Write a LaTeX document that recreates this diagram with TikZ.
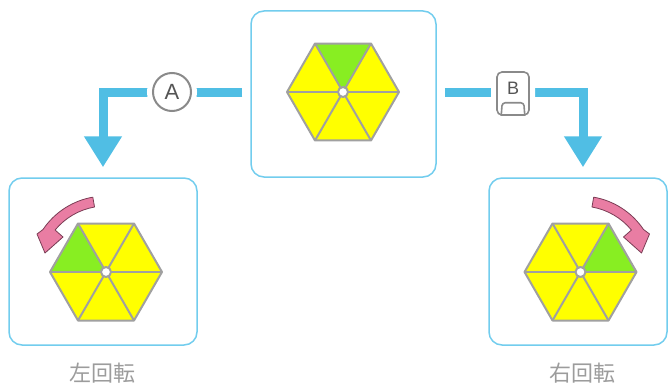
\documentclass[tikz,border=0pt]{standalone}
\usepackage{fontspec}
\setmainfont{Liberation Sans}
\newfontfamily\cjk{Noto Sans CJK JP}
\usetikzlibrary{arrows.meta}
\definecolor{boxblue}{HTML}{72CDEE}
\definecolor{connblue}{HTML}{50BEE4}
\definecolor{hexyellow}{HTML}{FFFF00}
\definecolor{hexgreen}{HTML}{88EE22}
\definecolor{hexgray}{HTML}{A0A0A0}
\definecolor{pinkfill}{HTML}{E97DA3}
\definecolor{pinkline}{HTML}{7A3D55}
\definecolor{labelgray}{HTML}{9C9C9C}
\definecolor{keygray}{HTML}{8A8A8A}
\definecolor{keytext}{HTML}{555555}
\tikzset{
  panel/.style={draw=boxblue, line width=1.5pt, rounded corners=13pt, fill=white, inner sep=0pt},
  conn/.style={draw=connblue, line width=9pt, -{Triangle[width=36pt,length=31pt]}},
  hexline/.style={draw=hexgray, line width=2pt, line join=round},
  rotpink/.style={fill=pinkfill, draw=pinkline, line width=0.8pt, line join=round},
  keycirc/.style={circle, draw=keygray, line width=2pt, fill=white, minimum size=38pt, inner sep=0pt,
    preaction={draw=white, line width=12pt}, text=keytext, font=\fontsize{22}{26}\selectfont},
  keycap/.style={rectangle, draw=keygray, line width=1.6pt, rounded corners=5pt, fill=white,
    minimum width=32pt, minimum height=43pt, inner sep=0pt, preaction={draw=white, line width=12pt}},
  caption/.style={text=labelgray, font=\cjk\fontsize{22}{26}\selectfont}
}
\newcommand{\hexwheel}[2]{%
  \begin{scope}[shift={#1}]
    \foreach \a in {0,60,...,300}{\fill[hexyellow] (0,0) -- (\a:56) -- (\a+60:56) -- cycle;}
    \fill[hexgreen] (0,0) -- (#2:56) -- ({#2+60}:56) -- cycle;
    \draw[hexline] (0:56) -- (60:56) -- (120:56) -- (180:56) -- (240:56) -- (300:56) -- cycle;
    \foreach \a in {0,60,...,300}{\draw[hexline] (0,0) -- (\a:56);}
    \draw[hexline, fill=white] (0,0) circle (5);
  \end{scope}}
\newcommand{\rotarrow}[2]{%
  \begin{scope}[shift={#1}, xscale=#2]
    \filldraw[rotpink] (100:76) arc[start angle=100, end angle=146, radius=76]
      -- (-69,38) -- (-61,19) -- (-43,35) -- (140.5:66)
      arc[start angle=140.5, end angle=100, radius=66] -- cycle;
  \end{scope}}
\begin{document}
\begin{tikzpicture}[x=1pt, y=1pt]
\useasboundingbox (0,0) rectangle (668,-385);
% panels
\node[panel, minimum width=185pt, minimum height=166pt] (top) at (343.5,-94) {};
\node[panel, minimum width=188pt, minimum height=167pt] (lbox) at (103,-261.5) {};
\node[panel, minimum width=178pt, minimum height=167pt] (rbox) at (578,-261.5) {};
% wheels
\hexwheel{(343,-92)}{60}
\hexwheel{(106,-272)}{120}
\hexwheel{(580.5,-272)}{0}
% rotation arrows
\rotarrow{(106,-272)}{1}
\rotarrow{(580.5,-272)}{-1}
% connectors
\draw[conn] ([xshift=-8pt,yshift=1.5pt]top.west) -| ([yshift=10pt]lbox.north);
\draw[conn] ([xshift=8pt,yshift=1.5pt]top.east) -| ([xshift=5pt,yshift=10pt]rbox.north);
% keys
\node[keycirc] (ka) at (172,-92) {A};
\node[keycap] (kb) at (513,-93.5) {};
\node[text=keytext, font=\fontsize{18}{20}\selectfont] (kbl) at ([yshift=5pt]kb.center) {B};
\draw[draw=keygray, line width=1.6pt, rounded corners=3pt]
  ([xshift=5pt]kb.south west) -- ([xshift=6pt,yshift=13pt]kb.south west)
  -- ([xshift=-6pt,yshift=13pt]kb.south east) -- ([xshift=-5pt]kb.south east);
% captions
\node[caption] (lcap) at (102.5,-373) {左回転};
\node[caption] (rcap) at (582.5,-373) {右回転};
\end{tikzpicture}
\end{document}
